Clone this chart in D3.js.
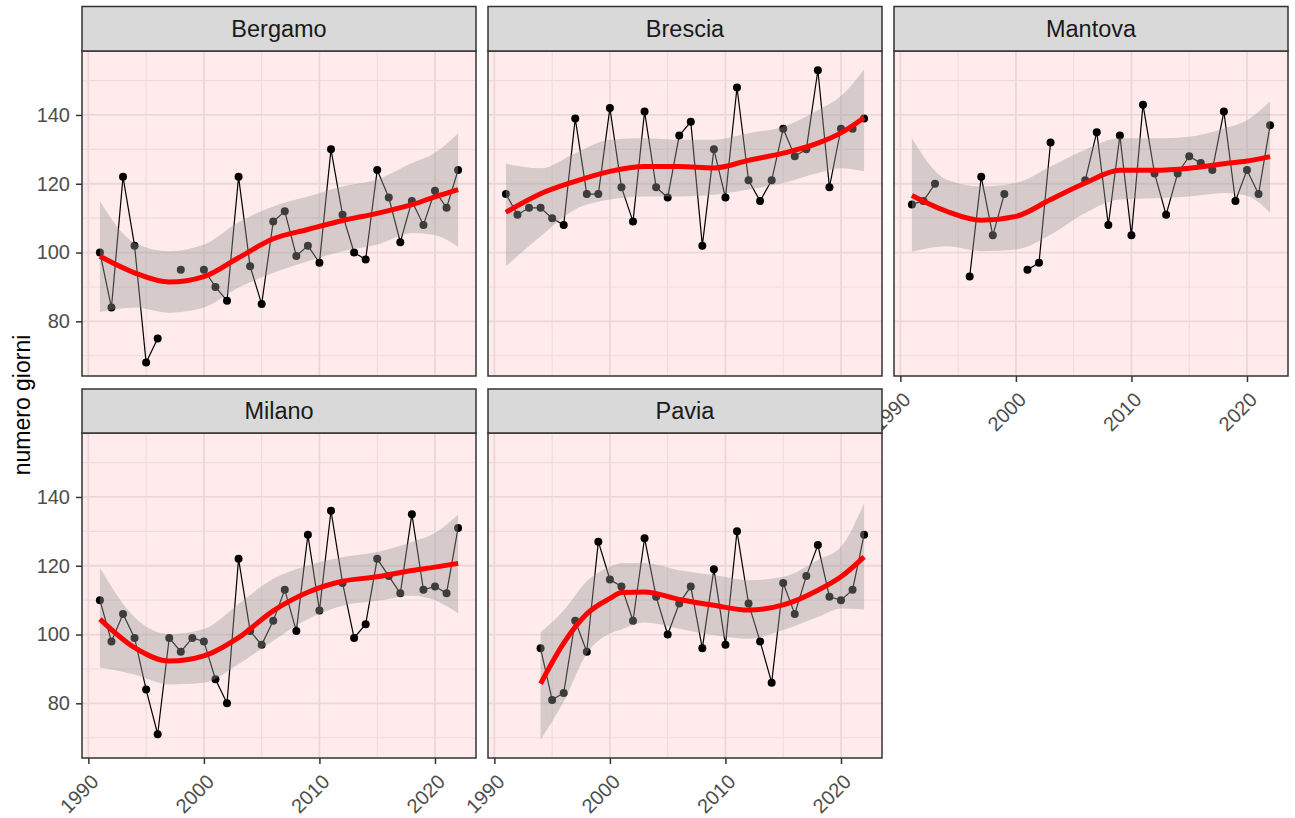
<!DOCTYPE html>
<html>
<head>
<meta charset="utf-8">
<title>numero giorni</title>
<script src="https://cdn.jsdelivr.net/npm/d3@7"></script>
<style>
    body { margin: 0; background: #fff; }
    text { font-family: "Liberation Sans", Arial, sans-serif; }
</style>
</head>
<body>
<svg id="chart"></svg>
<script>
    // anni e valori osservati (null = dato mancante)
    const years = [1991, 1992, 1993, 1994, 1995, 1996, 1997, 1998, 1999, 2000,
        2001, 2002, 2003, 2004, 2005, 2006, 2007, 2008, 2009, 2010,
        2011, 2012, 2013, 2014, 2015, 2016, 2017, 2018, 2019, 2020, 2021, 2022];

    const bergamo = [100, 84, 122, 102, 68, 75, null, 95, null, 95,
        90, 86, 122, 96, 85, 109, 112, 99, 102, 97,
        130, 111, 100, 98, 124, 116, 103, 115, 108, 118, 113, 124];
    const brescia = [117, 111, 113, 113, 110, 108, 139, 117, 117, 142,
        119, 109, 141, 119, 116, 134, 138, 102, 130, 116,
        148, 121, 115, 121, 136, 128, 130, 153, 119, 136, 136, 139];
    const mantova = [114, 115, 120, null, null, 93, 122, 105, 117, null,
        95, 97, 132, null, null, 121, 135, 108, 134, 105,
        143, 123, 111, 123, 128, 126, 124, 141, 115, 124, 117, 137];
    const milano = [110, 98, 106, 99, 84, 71, 99, 95, 99, 98,
        87, 80, 122, 101, 97, 104, 113, 101, 129, 107,
        136, 115, 99, 103, 122, 117, 112, 135, 113, 114, 112, 131];
    const pavia = [null, null, null, 96, 81, 83, 104, 95, 127, 116,
        114, 104, 128, 111, 100, 109, 114, 96, 119, 97,
        130, 109, 98, 86, 115, 106, 117, 126, 111, 110, 113, 129];

    // curva loess e banda di confidenza
    const fitYears = [1991, 1994, 1997, 2000, 2003, 2006, 2009, 2012, 2015, 2018, 2020, 2022];
    const bergamoFit = [98.9, 94.1, 91.4, 93.0, 98.5, 104.0, 106.7, 109.3, 111.4, 113.9, 116.2, 118.3];
    const bergamoLo = [82.7, 84.0, 82.5, 84.0, 89.8, 94.1, 97.5, 100.4, 102.3, 105.7, 105.0, 101.7];
    const bergamoHi = [114.9, 102.8, 100.4, 102.3, 108.8, 113.4, 116.3, 119.2, 121.2, 126.0, 129.0, 134.7];

    const bresciaFit = [111.7, 117.1, 120.7, 123.6, 125.0, 125.0, 124.6, 126.8, 128.9, 131.8, 134.8, 139.2];
    const bresciaLo = [96.0, 104.7, 112.5, 115.4, 116.3, 116.3, 116.8, 118.3, 120.2, 123.1, 124.5, 123.6];
    const bresciaHi = [125.8, 124.5, 128.9, 132.8, 133.2, 132.8, 132.8, 134.7, 136.6, 141.4, 145.5, 153.2];

    const mantovaFit = [116.6, 112.0, 109.4, 110.5, 115.4, 120.2, 123.9, 123.9, 124.5, 125.8, 126.6, 127.9];
    const mantovaLo = [100.2, 101.8, 100.4, 100.9, 105.2, 111.5, 115.4, 115.8, 116.3, 117.3, 116.5, 111.5];
    const mantovaHi = [133.2, 121.2, 119.2, 120.2, 125.0, 129.9, 133.2, 133.2, 133.7, 136.1, 138.5, 143.9];

    const milanoFit = [104.5, 96.2, 92.3, 93.8, 99.1, 106.9, 112.3, 115.5, 116.8, 118.6, 119.6, 120.7];
    const milanoLo = [90.4, 88.4, 85.5, 86.0, 91.4, 98.2, 104.5, 108.4, 109.8, 111.3, 110.0, 106.2];
    const milanoHi = [119.4, 105.0, 100.1, 101.6, 108.9, 116.2, 120.1, 122.5, 124.0, 126.9, 129.5, 134.9];

    const paviaYears = [1994, 1996, 1998, 2000, 2001, 2003, 2006, 2009, 2012, 2015, 2018, 2020, 2022];
    const paviaFit = [85.7, 97.5, 106.0, 110.5, 112.2, 112.4, 110.2, 108.5, 107.1, 108.6, 112.9, 116.8, 122.6];
    const paviaLo = [69.4, 80.5, 94.5, 100.3, 101.5, 103.5, 101.7, 99.8, 98.8, 101.3, 105.1, 107.6, 107.3];
    const paviaHi = [100.7, 107.0, 115.5, 119.7, 120.7, 120.7, 118.7, 117.3, 115.8, 116.8, 121.7, 125.5, 138.2];

    const yTicks = [80, 100, 120, 140];
    const yMinor = [70, 90, 110, 130, 150];
    const xTicks = [1990, 2000, 2010, 2020];
    const xMinor = [1995, 2005, 2015];

    const panels = [
        { name: "Bergamo", values: bergamo, fx: fitYears, fit: bergamoFit, lo: bergamoLo, hi: bergamoHi, col: 0, row: 0 },
        { name: "Brescia", values: brescia, fx: fitYears, fit: bresciaFit, lo: bresciaLo, hi: bresciaHi, col: 1, row: 0 },
        { name: "Mantova", values: mantova, fx: fitYears, fit: mantovaFit, lo: mantovaLo, hi: mantovaHi, col: 2, row: 0 },
        { name: "Milano", values: milano, fx: fitYears, fit: milanoFit, lo: milanoLo, hi: milanoHi, col: 0, row: 1 },
        { name: "Pavia", values: pavia, fx: paviaYears, fit: paviaFit, lo: paviaLo, hi: paviaHi, col: 1, row: 1 }
    ];

    // layout
    const W = 1295, H = 818;
    const colLeft = [82, 488, 894], panelW = 394;
    const rows = [
        { strip: 6.5, top: 51, bottom: 376 },
        { strip: 389, top: 433, bottom: 758 }
    ];

    let svg = d3.select("#chart").attr("width", W).attr("height", H);

    panels.forEach(p => {
        let left = colLeft[p.col], r = rows[p.row];
        let x = d3.scaleLinear().domain([1989.45, 2023.55]).range([left, left + panelW]);
        let y = d3.scaleLinear().domain([64.1, 158.6]).range([r.bottom, r.top]);
        let g = svg.append("g").attr("class", "panel");

        let clipId = "clip-" + p.name;
        g.append("clipPath").attr("id", clipId)
            .append("rect").attr("x", left).attr("y", r.top).attr("width", panelW).attr("height", r.bottom - r.top);

        g.append("rect")
            .attr("x", left).attr("y", r.top)
            .attr("width", panelW).attr("height", r.bottom - r.top)
            .attr("fill", "#FFEBEB");

        // griglia
        g.selectAll(".ymin").data(yMinor).enter().append("line")
            .attr("x1", left).attr("x2", left + panelW)
            .attr("y1", d => y(d)).attr("y2", d => y(d))
            .attr("stroke", "#EEDCDC").attr("stroke-width", 1.1);
        g.selectAll(".xmin").data(xMinor).enter().append("line")
            .attr("y1", r.top).attr("y2", r.bottom)
            .attr("x1", d => x(d)).attr("x2", d => x(d))
            .attr("stroke", "#EEDCDC").attr("stroke-width", 1.1);
        g.selectAll(".ymaj").data(yTicks).enter().append("line")
            .attr("x1", left).attr("x2", left + panelW)
            .attr("y1", d => y(d)).attr("y2", d => y(d))
            .attr("stroke", "#EBD7D7").attr("stroke-width", 1.8);
        g.selectAll(".xmaj").data(xTicks).enter().append("line")
            .attr("y1", r.top).attr("y2", r.bottom)
            .attr("x1", d => x(d)).attr("x2", d => x(d))
            .attr("stroke", "#EBD7D7").attr("stroke-width", 1.8);

        let pts = years.map((yr, i) => ({ yr: yr, v: p.values[i] }));
        let plot = g.append("g").attr("clip-path", "url(#" + clipId + ")");

        let line = d3.line()
            .defined(d => d.v != null)
            .x(d => x(d.yr)).y(d => y(d.v));
        plot.append("path")
            .attr("d", line(pts))
            .attr("fill", "none")
            .attr("stroke", "#000")
            .attr("stroke-width", 1.2);

        plot.selectAll(".dot")
            .data(pts.filter(d => d.v != null))
            .enter().append("circle")
            .attr("class", "dot")
            .attr("cx", d => x(d.yr)).attr("cy", d => y(d.v))
            .attr("r", 4)
            .attr("fill", "#000");

        let band = p.fx.map((yr, i) => ({ yr: yr, fit: p.fit[i], lo: p.lo[i], hi: p.hi[i] }));
        let area = d3.area()
            .curve(d3.curveMonotoneX)
            .x(d => x(d.yr)).y0(d => y(d.lo)).y1(d => y(d.hi));
        plot.append("path")
            .attr("d", area(band))
            .attr("fill", "#999999")
            .attr("fill-opacity", 0.4);

        let smooth = d3.line()
            .curve(d3.curveMonotoneX)
            .x(d => x(d.yr)).y(d => y(d.fit));
        plot.append("path")
            .attr("d", smooth(band))
            .attr("fill", "none")
            .attr("stroke", "#FF0000")
            .attr("stroke-width", 5);

        // bordo pannello
        g.append("rect")
            .attr("x", left).attr("y", r.top)
            .attr("width", panelW).attr("height", r.bottom - r.top)
            .attr("fill", "none").attr("stroke", "#333333").attr("stroke-width", 1.5);

        // strip
        g.append("rect")
            .attr("x", left).attr("y", r.strip)
            .attr("width", panelW).attr("height", r.top - r.strip)
            .attr("fill", "#D9D9D9").attr("stroke", "#333333").attr("stroke-width", 1.5);
        g.append("text")
            .attr("x", left + panelW / 2)
            .attr("y", (r.strip + r.top) / 2)
            .attr("dy", "0.36em")
            .attr("text-anchor", "middle")
            .attr("fill", "#1A1A1A")
            .style("font-size", "23.5px")
            .text(p.name);

        // assi
        if (p.col == 0) {
            let ay = g.append("g")
                .attr("transform", "translate(" + left + ",0)")
                .call(d3.axisLeft(y).tickValues(yTicks).tickSize(6).tickPadding(6));
            ay.select(".domain").remove();
            ay.selectAll("line").attr("stroke", "#333333").attr("stroke-width", 1.5);
            ay.selectAll("text").attr("fill", "#4D4D4D").style("font-size", "20px");
        }
        if (p.row == 1 || p.col == 2) {
            let ax = g.append("g")
                .attr("transform", "translate(0," + r.bottom + ")")
                .call(d3.axisBottom(x).tickValues(xTicks).tickFormat(d3.format("d")).tickSize(6));
            ax.select(".domain").remove();
            ax.selectAll("line").attr("stroke", "#333333").attr("stroke-width", 1.5);
            ax.selectAll("text")
                .attr("x", 0).attr("y", 0).attr("dy", 0)
                .attr("transform", "translate(11,25) rotate(-45)")
                .attr("text-anchor", "end")
                .attr("fill", "#4D4D4D")
                .style("font-size", "20px");
        }
    });

    svg.append("text")
        .attr("transform", "translate(30,405) rotate(-90)")
        .attr("text-anchor", "middle")
        .attr("fill", "#000")
        .style("font-size", "23px")
        .text("numero giorni");
</script>
</body>
</html>
